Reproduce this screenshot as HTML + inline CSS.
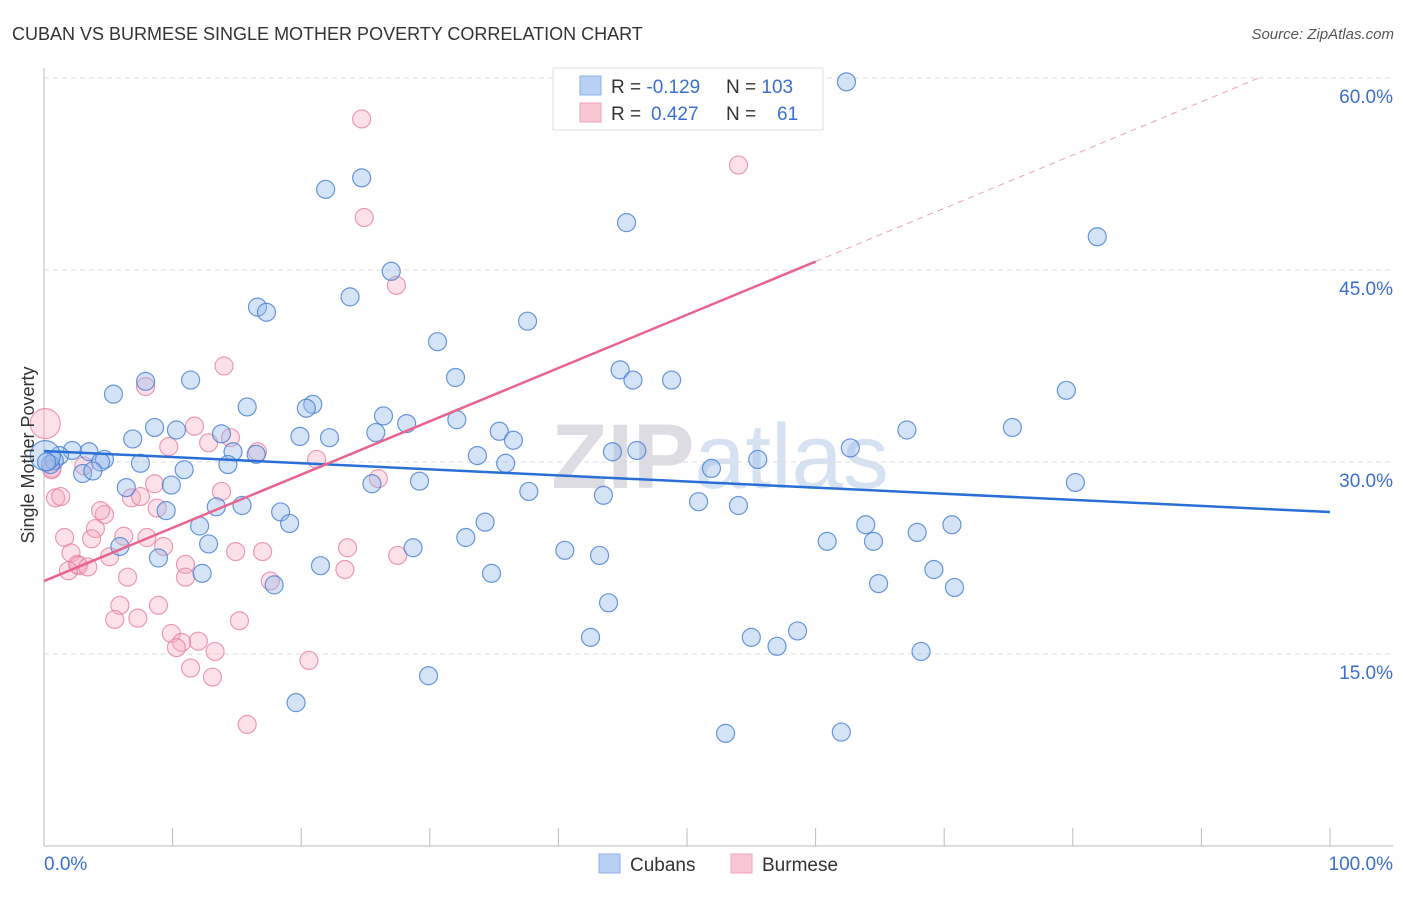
<!DOCTYPE html>
<html><head><meta charset="utf-8">
<style>
body{margin:0;background:#fff;font-family:"Liberation Sans",sans-serif;}
svg text{font-family:"Liberation Sans",sans-serif;}
</style></head>
<body>
<svg id="chart" width="1406" height="892" xmlns="http://www.w3.org/2000/svg">
<text x="12" y="40" font-size="18" fill="#333">CUBAN VS BURMESE SINGLE MOTHER POVERTY CORRELATION CHART</text>
<text x="1394" y="39" font-size="15" fill="#555" font-style="italic" text-anchor="end">Source: ZipAtlas.com</text>
<text x="720" y="488" font-size="92" fill="#e6e6ea" text-anchor="middle" font-family="Liberation Serif"><tspan font-weight="bold" fill="#dcdce2">ZIP</tspan><tspan fill="#d6e2f2">atlas</tspan></text>
<g id="grid"></g>
<g id="axes"></g>
<g id="pts"></g>
<g id="lines"></g>
<text x="34" y="455" font-size="18" fill="#333" text-anchor="middle" transform="rotate(-90 34 455)">Single Mother Poverty</text>
<g>
<rect x="553" y="68" width="270" height="62" fill="#fff" stroke="#ddd"/>
<rect x="580" y="76" width="21" height="19" fill="#b8d0f4" stroke="#8fb2e6"/>
<rect x="580" y="103" width="21" height="19" fill="#f9c6d4" stroke="#eea5ba"/>
<text x="611" y="93" font-size="19" fill="#333">R = <tspan fill="#3a6fd0">-0.129</tspan><tspan x="726">N = </tspan><tspan fill="#3a6fd0">103</tspan></text>
<text x="611" y="120" font-size="19" fill="#333">R = <tspan fill="#3a6fd0" x="651">0.427</tspan><tspan x="726">N = </tspan><tspan fill="#3a6fd0" x="777">61</tspan></text>
</g>
<g>
<rect x="599" y="854" width="21" height="19" fill="#b8d0f4" stroke="#8fb2e6"/>
<text x="630" y="871" font-size="19" fill="#333">Cubans</text>
<rect x="731" y="854" width="21" height="19" fill="#f9c6d4" stroke="#eea5ba"/>
<text x="762" y="871" font-size="19" fill="#333">Burmese</text>
</g>
</svg>
<script>
const yTicks=[15,30,45,60];
const yTickLabels=["15.0%","30.0%","45.0%","60.0%"];
const xTickLabels=["0.0%","100.0%"];
const cubanX=[62.4,24.7,21.9,45.3,81.9,27.0,23.8,16.6,17.3,37.6,30.6,32.0,44.8,45.8,48.8,79.5,11.4,7.9,5.4,15.8,20.9,20.4,26.4,32.1,28.2,8.6,10.3,35.4,25.8,19.9,22.2,6.9,13.8,36.5,67.1,75.3,62.7,14.7,44.2,46.1,16.5,33.7,3.5,2.2,1.2,0.8,0.5,4.7,4.4,7.5,14.3,10.9,35.9,55.5,51.9,3.0,3.8,25.5,29.2,80.2,6.4,9.9,37.7,43.5,50.9,15.4,13.4,9.5,18.4,54.0,19.1,12.1,34.3,63.9,70.6,32.8,12.8,5.9,60.9,64.5,67.9,28.7,40.5,43.2,8.9,21.5,34.8,12.3,69.2,17.9,64.9,70.8,43.9,58.6,42.5,55.0,57.0,68.2,29.9,19.6,53.0,62.0,0.1,0.2];
const cubanY=[59.7,52.2,51.3,48.7,47.6,44.9,42.9,42.1,41.7,41.0,39.4,36.6,37.2,36.4,36.4,35.6,36.4,36.3,35.3,34.3,34.5,34.2,33.6,33.3,33.0,32.7,32.5,32.4,32.3,32.0,31.9,31.8,32.2,31.7,32.5,32.7,31.1,30.8,30.8,30.9,30.6,30.5,30.8,30.9,30.5,30.1,29.8,30.2,30.0,29.9,29.8,29.4,29.9,30.2,29.5,29.1,29.3,28.3,28.5,28.4,28.0,28.2,27.7,27.4,26.9,26.6,26.5,26.2,26.1,26.6,25.2,25.0,25.3,25.1,25.1,24.1,23.6,23.4,23.8,23.8,24.5,23.3,23.1,22.7,22.5,21.9,21.3,21.3,21.6,20.4,20.5,20.2,19.0,16.8,16.3,16.3,15.6,15.2,13.3,11.2,8.8,8.9,30.5,30.0];
const burmeseX=[24.7,54.0,24.9,27.4,14.0,7.9,11.7,14.5,12.8,9.7,16.6,21.2,3.1,0.6,26.0,0.9,1.3,13.8,8.6,6.8,7.5,4.7,4.4,8.8,4.0,6.2,1.6,3.7,8.0,9.3,2.1,14.9,17.0,23.6,5.1,2.6,2.7,1.9,3.4,11.0,27.5,23.4,6.5,11.0,17.6,8.9,5.9,5.5,7.3,15.2,9.9,12.0,10.7,10.3,13.3,20.6,11.4,13.1,15.8,0.1,0.6];
const burmeseY=[56.8,53.2,49.1,43.8,37.5,35.9,32.8,31.9,31.5,31.2,30.8,30.2,29.7,29.5,28.7,27.2,27.3,27.7,28.3,27.2,27.3,25.9,26.2,26.4,24.8,24.2,24.1,24.0,24.1,23.4,22.9,23.0,23.0,23.3,22.6,22.0,21.9,21.5,21.8,22.0,22.7,21.6,21.0,21.0,20.7,18.8,18.8,17.7,17.8,17.6,16.6,16.0,15.9,15.5,15.2,14.5,13.9,13.2,9.5,33.0,29.4];
const cubanTrend=[30.86,26.09];
const burmeseTrend=[20.7,62.3];
const NS="http://www.w3.org/2000/svg";
const X=v=>44+v*12.86, Y=v=>846-v*12.8;
function mk(t,a,p){const e=document.createElementNS(NS,t);for(const k in a)e.setAttribute(k,a[k]);p.appendChild(e);return e;}
const grid=document.getElementById('grid'),axes=document.getElementById('axes'),pts=document.getElementById('pts'),lines=document.getElementById('lines');
yTicks.forEach((t,i)=>{
 const l=mk('line',{x1:44,x2:1393,y1:Y(t),y2:Y(t),stroke:'#ddd','stroke-dasharray':'5,4'},grid);
 
 
 const tx=mk('text',{x:1393,y:Y(t)+25,'font-size':19,fill:'#3a6fd0','text-anchor':'end'},axes);
 tx.textContent=yTickLabels[i];
 
 
});
mk('line',{x1:44,x2:44,y1:68,y2:846,stroke:'#bbb'},axes);
mk('line',{x1:44,x2:1393,y1:846,y2:846,stroke:'#bbb'},axes);
for(let i=1;i<=10;i++){const tk=mk('line',{x1:X(i*10),x2:X(i*10),y1:828,y2:846,stroke:'#bbb'},axes);
 
 }
const xl0=mk('text',{x:44,y:870,'font-size':19,fill:'#3a6fd0'},axes);xl0.textContent=xTickLabels[0];


const xl1=mk('text',{x:1393,y:870,'font-size':19,fill:'#3a6fd0','text-anchor':'end'},axes);xl1.textContent=xTickLabels[1];


function dots(xs,ys,fill,stroke,bigIdx,name){
 xs.forEach((x,i)=>{const c=mk('circle',{cx:X(x),cy:Y(ys[i]),r:bigIdx.includes(i)?15:9,fill:fill,stroke:stroke,'stroke-width':1.2},pts);
 
 });
}
dots(burmeseX,burmeseY,'rgba(246,170,192,0.35)','rgba(232,130,160,0.8)',[59],'burmese-point');
dots(cubanX,cubanY,'rgba(150,185,236,0.4)','rgba(70,125,210,0.8)',[102],'cuban-point');
const bl=mk('line',{x1:X(0),y1:Y(cubanTrend[0]),x2:X(100),y2:Y(cubanTrend[1]),stroke:'#2a6fd6','stroke-width':2.5},lines);


const slope=(burmeseTrend[1]-burmeseTrend[0])/100;
const pl=mk('line',{x1:X(0),y1:Y(burmeseTrend[0]),x2:X(60),y2:Y(burmeseTrend[0]+slope*60),stroke:'#e8648e','stroke-width':2.5},lines);


const xe=(60-burmeseTrend[0])/slope;
const pd=mk('line',{x1:X(60),y1:Y(burmeseTrend[0]+slope*60),x2:X(xe),y2:Y(60),stroke:'#eea0b8','stroke-width':1,'stroke-dasharray':'6,5'},lines);


</script>
</body></html>
